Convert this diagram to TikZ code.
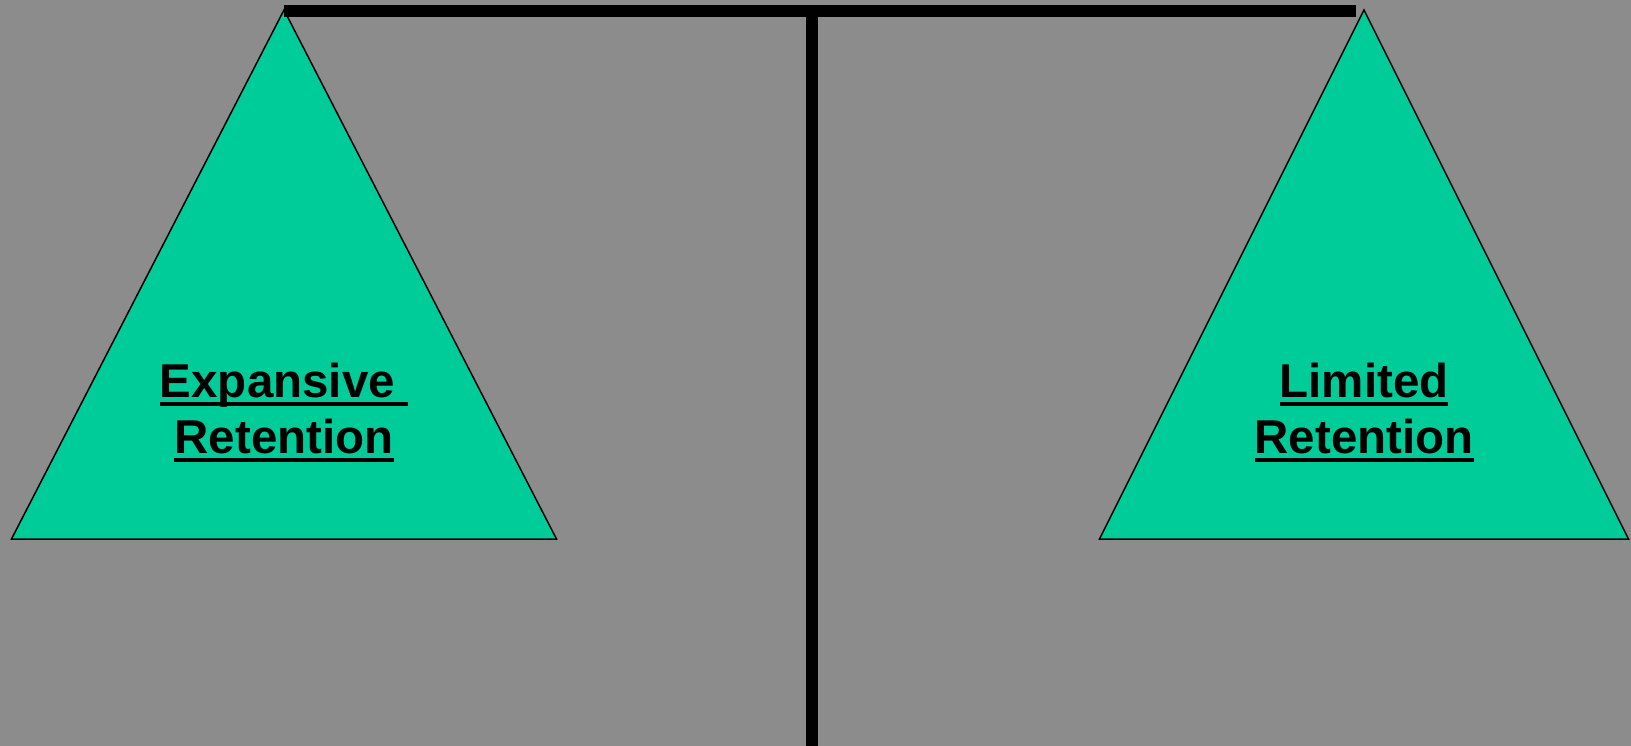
\documentclass[tikz,border=0pt]{standalone}
\usepackage{fontspec}
\setmainfont{Liberation Sans}
\usepackage{tikz}
\definecolor{scaleBg}{RGB}{140,140,140}
\definecolor{panGreen}{RGB}{0,204,153}
% underlined word, rule set a little under the baseline
\newcommand{\panline}[1]{\setbox0\hbox{#1}\rlap{\rule[-9pt]{\wd0}{4pt}}\box0}

\begin{document}
\begin{tikzpicture}[
    x=1pt,y=-1pt,
    pan/.style={draw=black,line width=1.5pt,fill=panGreen,line join=miter},
    beam/.style={line width=12pt,black},
    label/.style={font=\fontsize{47.5}{56}\selectfont\bfseries,align=center,anchor=base}
  ]

  % Background
  \fill[scaleBg] (0,0) rectangle (1631,746);
  \useasboundingbox (0,0) rectangle (1631,746);

  % Left pan
  \coordinate (leftTop) at (284,10);
  \coordinate (leftA) at (11.5,539);
  \coordinate (leftB) at (556.5,539);
  \draw[pan] (leftTop) -- (leftA) -- (leftB) -- cycle;
  \node[label] (leftLabel) at (284,453) {\panline{Expansive\ }\\\panline{Retention}};

  % Right pan
  \coordinate (rightTop) at (1364,10);
  \coordinate (rightA) at (1099.5,539);
  \coordinate (rightB) at (1628.5,539);
  \draw[pan] (rightTop) -- (rightA) -- (rightB) -- cycle;
  \node[label] (rightLabel) at (1364,453) {\panline{Limited}\\\panline{Retention}};

  % Beam and post
  \coordinate (beamL) at (284,11);
  \coordinate (beamR) at (1356,11);
  \coordinate (postTop) at (812,11);
  \coordinate (postFoot) at (812,746);
  \draw[beam] (beamL) -- (beamR);
  \draw[beam] (postTop) -- (postFoot);
\end{tikzpicture}
\end{document}
